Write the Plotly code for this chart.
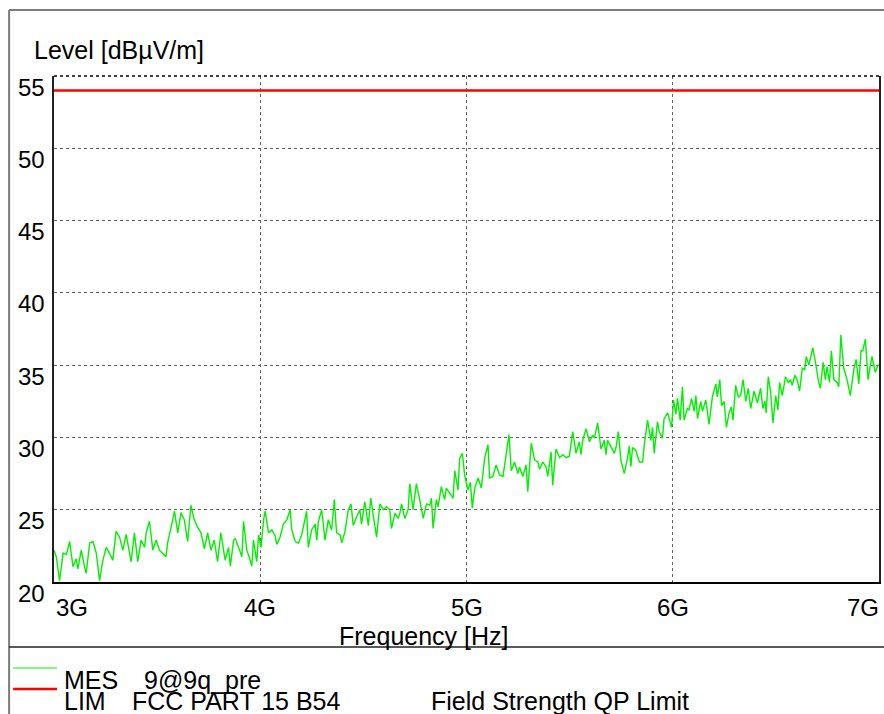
import plotly.graph_objects as go

# ---- data (frequency in GHz, level in dBµV/m) ----
freq_ghz = [
    3.000, 3.011, 3.027, 3.044, 3.060, 3.076, 3.092, 3.108, 3.116, 3.132, 3.148, 3.156, 3.173, 3.189,
    3.205, 3.221, 3.237, 3.253, 3.269, 3.285, 3.301, 3.318, 3.334, 3.350, 3.374, 3.390, 3.406, 3.422,
    3.439, 3.447, 3.463, 3.479, 3.495, 3.511, 3.543, 3.551, 3.568, 3.584, 3.600, 3.616, 3.632, 3.648,
    3.664, 3.680, 3.696, 3.713, 3.729, 3.745, 3.761, 3.777, 3.793, 3.809,
    3.830, 3.846, 3.855, 3.871, 3.879, 3.895, 3.911, 3.919, 3.935, 3.951, 3.959, 3.967, 3.983, 3.992,
    4.004, 4.016, 4.024, 4.040, 4.056, 4.072, 4.080, 4.096, 4.112, 4.129, 4.145, 4.153, 4.169, 4.185,
    4.201, 4.225, 4.233, 4.249, 4.266, 4.274, 4.282, 4.298, 4.314, 4.330, 4.346, 4.359, 4.370, 4.387,
    4.395, 4.411, 4.427, 4.440, 4.451, 4.467, 4.483, 4.491, 4.507, 4.524, 4.536, 4.548, 4.564, 4.580,
    4.596,
    4.612, 4.628, 4.636, 4.653, 4.669, 4.677, 4.685, 4.701, 4.717, 4.725, 4.741, 4.757, 4.773, 4.790,
    4.806, 4.822, 4.830, 4.838, 4.854, 4.862, 4.878, 4.894, 4.902, 4.919, 4.935, 4.943, 4.959, 4.967,
    4.980, 4.991, 5.007, 5.019, 5.028, 5.040, 5.056, 5.072, 5.088, 5.104, 5.112, 5.128, 5.144, 5.160,
    5.177, 5.193, 5.206, 5.217, 5.233, 5.249, 5.257, 5.273, 5.289, 5.297, 5.314, 5.330, 5.346, 5.354,
    5.370, 5.386,
    5.394, 5.410, 5.418, 5.434, 5.451, 5.467, 5.483, 5.499, 5.515, 5.531, 5.547, 5.555, 5.563, 5.580,
    5.596, 5.612, 5.620, 5.636, 5.652, 5.668, 5.676, 5.684, 5.701, 5.717, 5.725, 5.736, 5.749, 5.765,
    5.781, 5.789, 5.797, 5.805, 5.821, 5.838, 5.854, 5.862, 5.878, 5.894, 5.902, 5.910, 5.926, 5.934,
    5.950, 5.958, 5.975, 5.983, 5.994, 6.004, 6.015, 6.023, 6.036, 6.047, 6.055, 6.071, 6.079, 6.091,
    6.104, 6.112, 6.120, 6.136, 6.144, 6.160, 6.176,
    6.192, 6.209, 6.216, 6.228, 6.237, 6.249, 6.260, 6.273, 6.284, 6.292, 6.305, 6.318, 6.329, 6.341,
    6.354, 6.366, 6.378, 6.394, 6.410, 6.426, 6.437, 6.447, 6.453, 6.463, 6.474, 6.486, 6.499, 6.510,
    6.518, 6.531, 6.547, 6.560, 6.571, 6.579, 6.592, 6.603, 6.615, 6.628, 6.640, 6.647, 6.660, 6.679,
    6.692, 6.705, 6.716, 6.729, 6.740, 6.748, 6.760, 6.769, 6.781, 6.797, 6.805, 6.815, 6.829, 6.845,
    6.861, 6.878, 6.889, 6.902, 6.913, 6.921, 6.934, 6.947, 6.958, 6.966, 6.982, 6.995, 7.000,
]
level_mes = [
    22.2, 21.75, 20.1, 22.0, 21.9, 22.8, 21.06, 21.6, 20.9, 22.2, 21.06, 20.6, 22.7, 22.8,
    22.0, 20.1, 21.5, 22.4, 22.0, 21.5, 23.5, 23.1, 22.2, 23.3, 21.4, 23.4, 21.4, 22.9,
    22.4, 23.4, 24.2, 22.2, 22.9, 22.2, 21.75, 22.7, 23.8, 24.9, 23.4, 24.8, 24.3, 22.8,
    25.3, 24.3, 23.8, 23.4, 22.3, 23.4, 22.2, 22.9, 21.4, 23.4,
    21.5, 22.4, 21.1, 22.9, 23.0, 22.4, 21.75, 24.2, 22.2, 21.5, 21.1, 22.9, 21.4, 23.25,
    22.4, 24.3, 24.9, 23.4, 23.6, 23.2, 22.6, 23.1, 24.0, 24.3, 25.0, 23.6, 22.8, 22.7,
    23.25, 24.9, 22.4, 23.6, 24.0, 22.9, 24.2, 25.0, 22.9, 24.3, 23.6, 25.7, 23.4, 23.25,
    22.7, 23.5, 25.0, 25.4, 23.9, 24.5, 25.0, 24.0, 25.55, 23.9, 25.8, 24.6, 23.1, 25.4,
    25.0,
    25.2, 25.0, 23.7, 24.75, 24.4, 24.75, 25.4, 24.4, 25.0, 26.8, 25.0, 26.8, 25.7, 24.4,
    25.4, 25.3, 25.8, 23.7, 25.7, 25.2, 26.6, 25.7, 26.5, 26.1, 25.8, 27.7, 26.35, 28.55,
    28.9, 27.4, 26.35, 26.9, 25.1, 26.5, 27.2, 26.5, 28.55, 29.5, 27.2, 27.3, 28.1, 27.4,
    27.3, 28.9, 30.2, 27.7, 28.3, 27.5, 27.95, 27.3, 28.1, 26.25, 29.6, 28.45, 28.3, 27.8,
    28.3, 27.95,
    27.3, 29.0, 26.7, 29.2, 28.6, 28.8, 28.6, 28.7, 30.4, 28.9, 29.7, 28.8, 29.8, 30.6,
    29.7, 30.15, 29.95, 31.0, 29.2, 29.8, 28.8, 29.8, 29.3, 28.9, 29.3, 30.4, 28.4, 27.5,
    28.6, 29.4, 28.0, 29.3, 29.1, 28.3, 28.3, 29.5, 31.2, 29.8, 30.7, 28.9, 31.1, 30.4,
    29.95, 31.3, 31.7, 31.2, 30.7, 32.6, 31.6, 32.7, 31.2, 33.5, 31.2, 32.0, 31.9, 32.7,
    31.8, 32.9, 31.3, 32.5, 31.8, 32.6, 30.9,
    32.8, 33.7, 32.8, 34.0, 32.2, 32.5, 30.7, 31.7, 32.1, 31.2, 33.6, 32.8, 32.9, 34.0,
    32.5, 33.4, 32.0, 33.2, 32.4, 33.4, 32.0, 32.5, 31.7, 34.2, 33.2, 31.0, 32.9, 31.9,
    33.8, 32.9, 34.2, 33.8, 34.0, 33.6, 34.3, 34.0, 33.2, 34.8, 34.7, 35.6, 35.0, 36.2,
    35.2, 34.0, 33.4, 35.2, 34.0, 34.9, 33.8, 36.0, 34.0, 33.8, 33.5, 37.1, 34.8, 34.0,
    32.9, 34.7, 35.4, 33.7, 36.0, 36.0, 36.8, 34.0, 35.0, 35.6, 34.5, 35.0, 35.0,
]
limit_freq_ghz = [3.0, 7.0]
limit_level = [54.0, 54.0]

y_ticks = [20, 25, 30, 35, 40, 45, 50, 55]
x_ticks_ghz = [3, 4, 5, 6, 7]
x_tick_labels = ["3G", "4G", "5G", "6G", "7G"]

# ---- layout geometry (pixels) ----
W, H = 884, 714
L, R, T, B = 54, 881, 76, 582


def px(x):
    return (x - L) / (R - L)


def py(y):
    return (B - y) / (B - T)


FONT = "Liberation Sans, Arial, sans-serif"

fig = go.Figure()
fig.add_trace(go.Scatter(
    x=[f * 1e9 for f in freq_ghz], y=level_mes, mode="lines",
    line=dict(color="#00f000", width=1.4), hoverinfo="skip", showlegend=False))
fig.add_trace(go.Scatter(
    x=[f * 1e9 for f in limit_freq_ghz], y=limit_level, mode="lines",
    line=dict(color="#ff0000", width=2.5), hoverinfo="skip", showlegend=False))

grid = dict(showgrid=True, gridcolor="#606060", griddash="dot", gridwidth=1, ticks="",
            showticklabels=False, zeroline=False)
fig.update_xaxes(range=[3e9, 7e9], tickvals=[4e9, 5e9, 6e9], showline=True,
                 linecolor="#000000", linewidth=1.5, **grid)
fig.update_yaxes(range=[20, 55], tickvals=y_ticks[1:-1], showline=True, mirror=True,
                 linecolor="#222222", linewidth=1.5, **grid)

ann = []
for v in y_ticks:
    ann.append(dict(x=0, xref="paper", y=v, yref="y", text=str(v), showarrow=False,
                    xanchor="right", yanchor="middle", xshift=-7, yshift=-11,
                    font=dict(family=FONT, size=24, color="#000")))
for f, t in zip(x_ticks_ghz, x_tick_labels):
    anchor = "left" if f == x_ticks_ghz[0] else ("right" if f == x_ticks_ghz[-1] else "center")
    shift = 0 if anchor == "left" else (2 if anchor == "right" else 0)
    ann.append(dict(x=f * 1e9, xref="x", y=0, yref="paper", text=t, showarrow=False,
                    xanchor=anchor, yanchor="middle", yshift=-25, xshift=shift,
                    font=dict(family=FONT, size=24, color="#000")))

ann.append(dict(x=px(32), xref="paper", y=py(50), yref="paper", text="Level [dBµV/m]",
                showarrow=False, xanchor="left", yanchor="middle",
                font=dict(family=FONT, size=25, color="#000")))
ann.append(dict(x=px(425), xref="paper", y=py(636), yref="paper", text="Frequency [Hz]",
                showarrow=False, xanchor="center", yanchor="middle",
                font=dict(family=FONT, size=25, color="#000")))

legend_texts = [("MES", 62, 680), ("9@9q_pre", 142, 680),
                ("LIM", 62, 701), ("FCC PART 15 B54", 130, 701),
                ("Field Strength QP Limit", 430, 701)]
for t, x, y in legend_texts:
    ann.append(dict(x=px(x), xref="paper", y=py(y), yref="paper", text=t, showarrow=False,
                    xanchor="left", yanchor="middle",
                    font=dict(family=FONT, size=25, color="#000")))

shapes = [
    # top dotted border of the plot area
    dict(type="line", xref="paper", yref="paper", x0=0, x1=1, y0=1, y1=1,
         line=dict(color="#000", width=1.5, dash="dot")),
    # outer frame
    dict(type="line", xref="paper", yref="paper", x0=px(9), x1=px(890), y0=py(10), y1=py(10),
         line=dict(color="#7a7a7a", width=2)),
    dict(type="line", xref="paper", yref="paper", x0=px(9), x1=px(9), y0=py(10), y1=py(720),
         line=dict(color="#7a7a7a", width=2)),
    dict(type="line", xref="paper", yref="paper", x0=px(9), x1=px(890), y0=py(647), y1=py(647),
         line=dict(color="#222", width=1.5)),
    # legend samples
    dict(type="line", xref="paper", yref="paper", x0=px(13), x1=px(57), y0=py(668), y1=py(668),
         line=dict(color="#00f000", width=1.2)),
    dict(type="line", xref="paper", yref="paper", x0=px(13), x1=px(57), y0=py(689), y1=py(689),
         line=dict(color="#ff0000", width=2.5)),
]

fig.update_layout(
    width=W, height=H, autosize=False,
    margin=dict(l=L, r=W - R, t=T, b=H - B, pad=0),
    paper_bgcolor="#ffffff", plot_bgcolor="#ffffff",
    showlegend=False, annotations=ann, shapes=shapes,
    font=dict(family=FONT),
)

fig.write_html(
    "out.html",
    config={"displayModeBar": False},
    post_script="document.body.style.margin='0';document.body.style.padding='0';"
                "document.documentElement.style.overflow='hidden';",
)
